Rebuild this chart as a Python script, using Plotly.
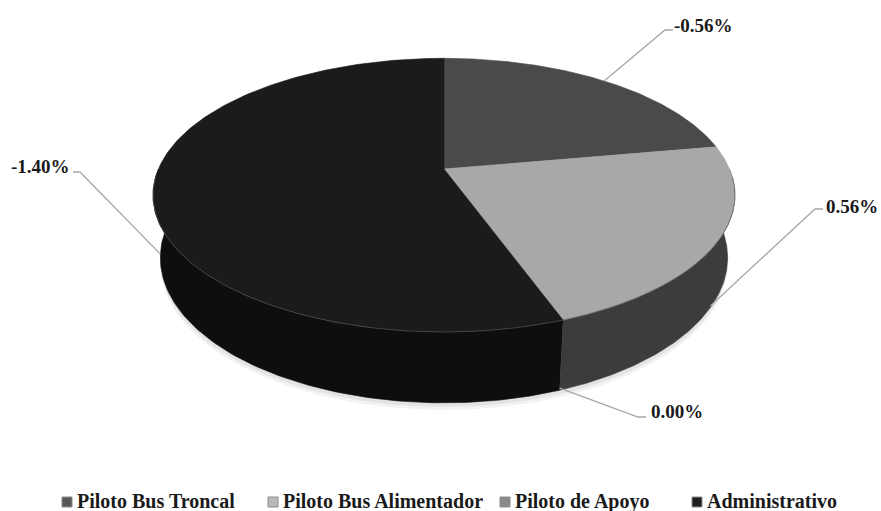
import numpy as np
import plotly.graph_objects as go

# ---- data -------------------------------------------------------------
categories = ["Piloto Bus Troncal", "Piloto Bus Alimentador", "Piloto de Apoyo", "Administrativo"]
variation = [-0.56, 0.56, 0.00, -1.40]          # percentage change per group
label_text = [f"{v:.2f}%" for v in variation]

# ---- style ------------------------------------------------------------
top_colors = ["#4a4a4a", "#a8a8a8", "#7f7f7f", "#1b1b1b"]
side_colors = ["#3a3a3a", "#3c3c3c", "#5a5a5a", "#0e0e0e"]
legend_colors = ["#575757", "#b9b9b9", "#8a8a8a", "#1e1e1e"]
FONT = "Liberation Serif"

# 3-D pie projection (unit-radius disc viewed from above with perspective)
TILT = np.radians(27.5)
DIST = 4.64
THICK = 0.249
SCALE = 1325.0
CX, CY = 444.0, 169.0


def project(theta, z, r=1.0):
    c, s = np.cos(TILT), np.sin(TILT)
    X = r * np.cos(theta)
    Y = r * np.sin(theta)
    depth = DIST + Y * c - z * s
    up = Y * s + z * c
    return CX + SCALE * X / depth, CY - SCALE * up / depth


# slice angles: start at 12 o'clock, go clockwise, sized by |value|
weights = np.abs(np.array(variation, dtype=float))
fractions = weights / weights.sum()
bounds = np.radians(90.0) - 2 * np.pi * np.concatenate([[0.0], np.cumsum(fractions)])

fig = go.Figure()

# soft shadow under the disc
full = np.linspace(0, 2 * np.pi, 241)
for off, col in [(7, "#f2f2f2"), (4, "#e3e3e3")]:
    sx, sy = project(full, -THICK, 1.0)
    fig.add_trace(go.Scatter(x=sx, y=sy + off, fill="toself", mode="lines",
                             line=dict(width=0), fillcolor=col,
                             hoverinfo="skip", showlegend=False))

# outer walls (only the front half of the rim is visible)
for i in range(len(categories)):
    a1, a2 = bounds[i], bounds[i + 1]      # a1 > a2 (clockwise)
    if a1 - a2 <= 1e-9:
        continue
    for k in (-1, 0, 1):
        lo = max(a2, -np.pi + 2 * np.pi * k)
        hi = min(a1, 0.0 + 2 * np.pi * k)
        if hi - lo <= 1e-9:
            continue
        th = np.linspace(hi, lo, 120)
        tx, ty = project(th, 0.0)
        bx, by = project(th[::-1], -THICK)
        fig.add_trace(go.Scatter(
            x=np.concatenate([tx, bx]), y=np.concatenate([ty, by]),
            fill="toself", mode="lines", line=dict(width=0.6, color=side_colors[i]),
            fillcolor=side_colors[i], hoverinfo="skip", showlegend=False))

# top faces
for i in range(len(categories)):
    a1, a2 = bounds[i], bounds[i + 1]
    if a1 - a2 <= 1e-9:
        continue
    th = np.linspace(a1, a2, 200)
    ax_, ay_ = project(th, 0.0)
    px = np.concatenate([[CX], ax_, [CX]])
    py = np.concatenate([[CY], ay_, [CY]])
    fig.add_trace(go.Scatter(
        x=px, y=py, fill="toself", mode="lines",
        line=dict(width=0.6, color=top_colors[i]),
        fillcolor=top_colors[i], hoverinfo="skip", showlegend=False))

# rim highlight along the visible top edge
th = np.linspace(-np.pi * 0.98, -np.pi * 0.02, 200)
rx_, ry_ = project(th, 0.0)
fig.add_trace(go.Scatter(x=rx_, y=ry_, mode="lines",
                         line=dict(width=1, color="rgba(90,90,90,0.6)"),
                         hoverinfo="skip", showlegend=False))

# data labels with leader lines
# anchor: where the leader meets the pie (top face or lower rim), then elbow and label
anchor_kind = ["top", "side", "side", "side"]
elbows = [(665, 30), (815, 209), (638, 417), (80, 172)]
line_ends = [(673, 30), (823, 209), (646, 417), (73, 172)]
label_pos = [(703, 25), (852, 206), (677, 411), (40, 166)]

for i in range(len(categories)):
    mid = 0.5 * (bounds[i] + bounds[i + 1])
    if anchor_kind[i] == "top":
        ax0, ay0 = project(mid, 0.0, 1.0)
    else:
        ax0, ay0 = project(mid, -THICK * 0.97, 1.0)
    ex, ey = elbows[i]
    lx, ly = line_ends[i]
    fig.add_trace(go.Scatter(x=[float(ax0), ex, lx], y=[float(ay0), ey, ly], mode="lines",
                             line=dict(width=1.3, color="#a6a6a6"),
                             hoverinfo="skip", showlegend=False))
    fig.add_annotation(x=label_pos[i][0], y=label_pos[i][1], text=label_text[i],
                       showarrow=False, xanchor="center", yanchor="middle",
                       font=dict(family=FONT, size=19, color="#1a1a1a", weight="bold"))

# legend row along the bottom: swatch + bold caption
legend_x = [62, 268, 500, 692]
LEG_Y = 502
for name, col, lx in zip(categories, legend_colors, legend_x):
    fig.add_shape(type="rect", x0=lx, x1=lx + 10, y0=LEG_Y - 5, y1=LEG_Y + 5,
                  xref="x", yref="y", fillcolor=col,
                  line=dict(width=1, color="#8c8c8c"))
    fig.add_annotation(x=lx + 13, y=LEG_Y - 1, text=name, showarrow=False,
                       xanchor="left", yanchor="middle",
                       font=dict(family=FONT, size=20, color="#1a1a1a", weight="bold"))

fig.update_layout(
    width=881, height=511,
    margin=dict(l=0, r=0, t=0, b=0),
    paper_bgcolor="white", plot_bgcolor="white",
    xaxis=dict(range=[0, 881], visible=False, fixedrange=True),
    yaxis=dict(range=[511, 0], visible=False, fixedrange=True),
    showlegend=False,
)

fig.write_html("out.html")
